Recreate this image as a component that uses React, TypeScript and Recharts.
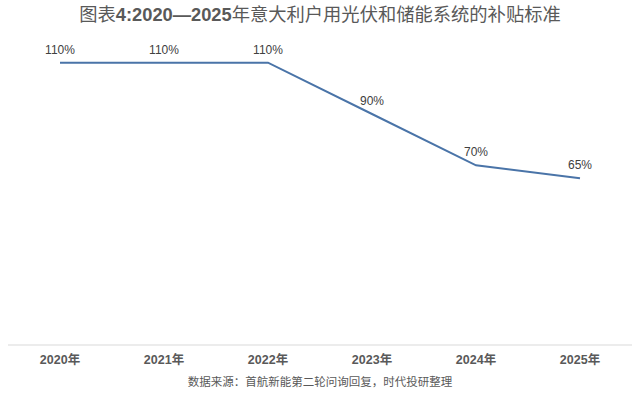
import { LineChart, Line, XAxis, YAxis, LabelList } from "recharts";

const years = ["2020年", "2021年", "2022年", "2023年", "2024年", "2025年"];
const subsidy = [110, 110, 110, 90, 70, 65];

const data = years.map((year, i) => ({ year, subsidy: subsidy[i] }));

const font = '"Liberation Sans", "Noto Sans CJK SC", sans-serif';

export default function App() {
  return (
    <div style={{ position: "fixed", left: 0, top: 0, width: 640, height: 396, background: "#fff", fontFamily: font }}>
      <div style={{ position: "absolute", top: 3, left: 0, width: 640, textAlign: "center", fontSize: 18.3, color: "#595959", lineHeight: "24px" }}>
        图表<b>4:2020—2025</b>年意大利户用光伏和储能系统的补贴标准
      </div>
      <LineChart width={640} height={396} data={data} margin={{ top: 37, right: 8, bottom: 21, left: 8 }}>
        <XAxis
          dataKey="year"
          height={30}
          padding={{ left: 52, right: 52 }}
          axisLine={{ stroke: "#d9d9d9" }}
          tickLine={false}
          tickMargin={4}
          tick={{ fontSize: 12.5, fontWeight: 700, fill: "#595959", fontFamily: font }}
        />
        <YAxis hide domain={[0, 120]} />
        <Line type="linear" dataKey="subsidy" stroke="#4a74a8" strokeWidth={2} dot={false} isAnimationActive={false}>
          <LabelList dataKey="subsidy" position="top" offset={9} formatter={(v: number) => `${v}%`} style={{ fontSize: 12, fill: "#404040", fontFamily: font }} />
        </Line>
      </LineChart>
      <div style={{ position: "absolute", top: 373, left: 0, width: 640, textAlign: "center", fontSize: 11.5, color: "#595959", fontFamily: '"Noto Sans CJK SC", serif' }}>
        数据来源：首航新能第二轮问询回复，时代投研整理
      </div>
    </div>
  );
}
